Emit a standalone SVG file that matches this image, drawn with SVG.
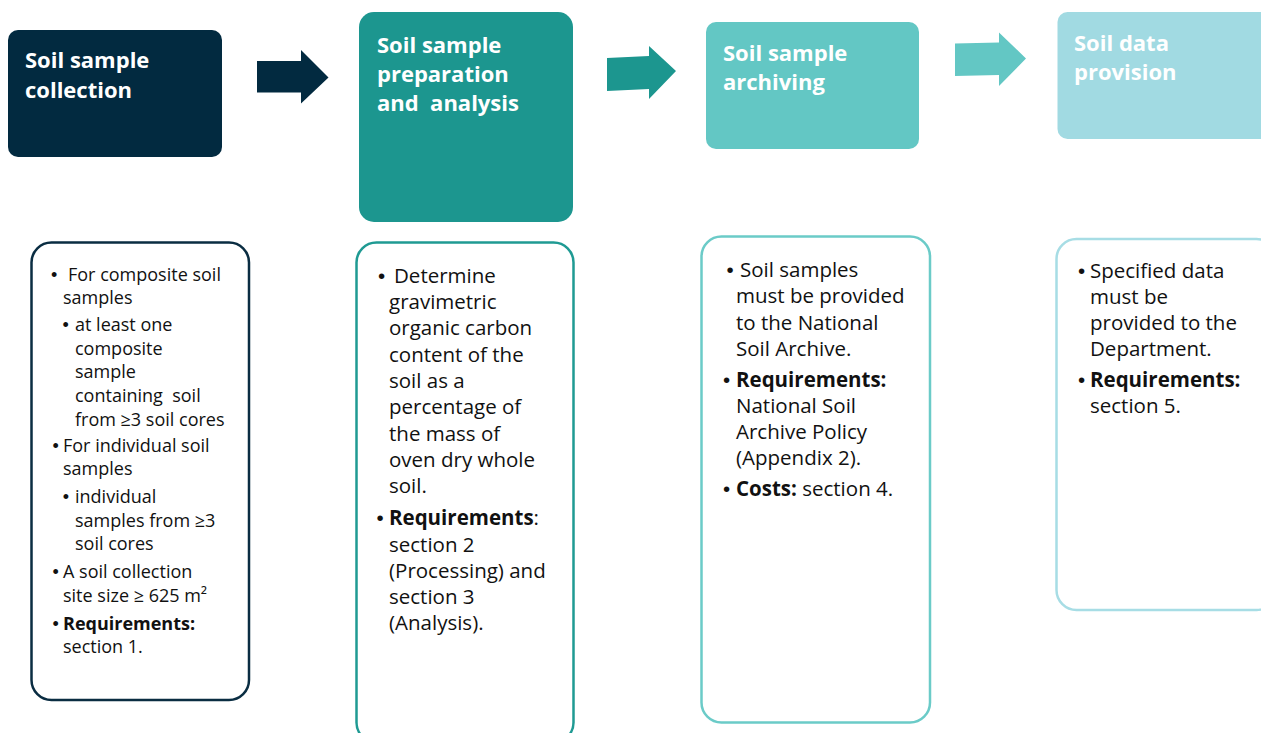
<svg xmlns="http://www.w3.org/2000/svg" width="1261" height="733" viewBox="0 0 1261 733">
<style>
.title{font-family:"Open Sans","Liberation Sans",sans-serif;font-weight:700;font-size:22px;fill:#ffffff}
.t{font-family:"Open Sans","Liberation Sans",sans-serif;fill:#111111}
.s18{font-size:18px}
.s20{font-size:20.5px}
.bd{font-weight:700}
.bu{font-family:"Liberation Sans",Arial,sans-serif}
.frame{fill:#ffffff;stroke-width:2.5}
</style>
<rect width="1261" height="733" fill="#ffffff"/>
<g id="connectors">
  <polygon id="arrow-1" points="257,61 301,61 301,50 328.5,77.5 301,103.5 301,92.5 257,92.5" fill="#022A40"/>
  <polygon id="arrow-2" points="607,58 649,56 649,46 676,71 649,99 649,89 607,91" fill="#1C968F"/>
  <polygon id="arrow-3" points="955,43.5 999,42.5 999,32.5 1026,58.5 999,86 999,75 955,76" fill="#63C7C4"/>
</g>
<g id="node-collection">
  <rect x="8" y="30" width="214" height="127" rx="10" fill="#022A40"/>
  <text class="title" x="25" y="68">Soil sample</text>
  <text class="title" x="25" y="98">collection</text>
</g>
<g id="node-preparation">
  <rect x="359" y="12" width="214" height="210" rx="15" fill="#1C968F"/>
  <text class="title" x="377" y="53">Soil sample</text>
  <text class="title" x="377" y="82">preparation</text>
  <text class="title" x="377" y="111" xml:space="preserve">and  analysis</text>
</g>
<g id="node-archiving">
  <rect x="706" y="22" width="213" height="127" rx="10" fill="#63C7C4"/>
  <text class="title" x="723" y="61">Soil sample</text>
  <text class="title" x="723" y="90">archiving</text>
</g>
<g id="node-provision">
  <rect x="1057.5" y="12" width="220" height="127" rx="10" fill="#A1DAE2"/>
  <text class="title" x="1074" y="51">Soil data</text>
  <text class="title" x="1074" y="80">provision</text>
</g>
<g id="detail-collection">
  <rect class="frame" x="31.5" y="242.5" width="217.5" height="457.5" rx="20" stroke="#0A2D42"/>
  <g class="t s18">
    <text class="bu" x="50.9" y="280.5">•</text>
    <text x="68" y="280.5">For composite soil</text>
    <text x="63" y="303.5">samples</text>
    <text class="bu" x="62.6" y="331">•</text>
    <text x="75" y="331">at least one</text>
    <text x="75" y="355">composite</text>
    <text x="75" y="378">sample</text>
    <text x="75" y="402" xml:space="preserve">containing  soil</text>
    <text x="75" y="425.5">from ≥3 soil cores</text>
    <text class="bu" x="52.6" y="451.5">•</text>
    <text x="63" y="451.5">For individual soil</text>
    <text x="63" y="475">samples</text>
    <text class="bu" x="62.8" y="503">•</text>
    <text x="75" y="503">individual</text>
    <text x="75" y="527">samples from ≥3</text>
    <text x="75" y="550">soil cores</text>
    <text class="bu" x="52.6" y="578">•</text>
    <text x="63" y="578">A soil collection</text>
    <text x="63" y="602">site size ≥ 625 m²</text>
    <text class="bu" x="52.6" y="630">•</text>
    <text x="63" y="630" class="bd">Requirements:</text>
    <text x="63" y="653">section 1.</text>
  </g>
</g>
<g id="detail-preparation">
  <rect class="frame" x="356.5" y="242.5" width="217" height="500" rx="20" stroke="#1F9A93"/>
  <g class="t s20">
    <text class="bu" x="378.1" y="283">•</text>
    <text x="394" y="283">Determine</text>
    <text x="389" y="309">gravimetric</text>
    <text x="389" y="335">organic carbon</text>
    <text x="389" y="361.5">content of the</text>
    <text x="389" y="388">soil as a</text>
    <text x="389" y="414">percentage of</text>
    <text x="389" y="440.5">the mass of</text>
    <text x="389" y="467">oven dry whole</text>
    <text x="389" y="493">soil.</text>
    <text class="bu" x="376.6" y="525">•</text>
    <text x="389" y="525"><tspan class="bd">Requirements</tspan>:</text>
    <text x="389" y="551.5">section 2</text>
    <text x="389" y="578">(Processing) and</text>
    <text x="389" y="604">section 3</text>
    <text x="389" y="630">(Analysis).</text>
  </g>
</g>
<g id="detail-archiving">
  <rect class="frame" x="701.5" y="236.5" width="228.5" height="486" rx="20" stroke="#6BCBC8"/>
  <g class="t s20">
    <text class="bu" x="726.4" y="277">•</text>
    <text x="740" y="277">Soil samples</text>
    <text x="736" y="303">must be provided</text>
    <text x="736" y="330">to the National</text>
    <text x="736" y="356">Soil Archive.</text>
    <text class="bu" x="723.1" y="387">•</text>
    <text x="736" y="387" class="bd">Requirements:</text>
    <text x="736" y="413">National Soil</text>
    <text x="736" y="439">Archive Policy</text>
    <text x="736" y="465">(Appendix 2).</text>
    <text class="bu" x="723.1" y="496">•</text>
    <text x="736" y="496"><tspan class="bd">Costs:</tspan> section 4.</text>
  </g>
</g>
<g id="detail-provision">
  <rect class="frame" x="1056.5" y="239" width="220" height="371" rx="20" stroke="#A7DDE5"/>
  <g class="t s20">
    <text class="bu" x="1078.1" y="278">•</text>
    <text x="1090" y="278">Specified data</text>
    <text x="1090" y="304">must be</text>
    <text x="1090" y="330">provided to the</text>
    <text x="1090" y="356">Department.</text>
    <text class="bu" x="1078.1" y="387">•</text>
    <text x="1090" y="387" class="bd">Requirements:</text>
    <text x="1090" y="413">section 5.</text>
  </g>
</g>
</svg>
